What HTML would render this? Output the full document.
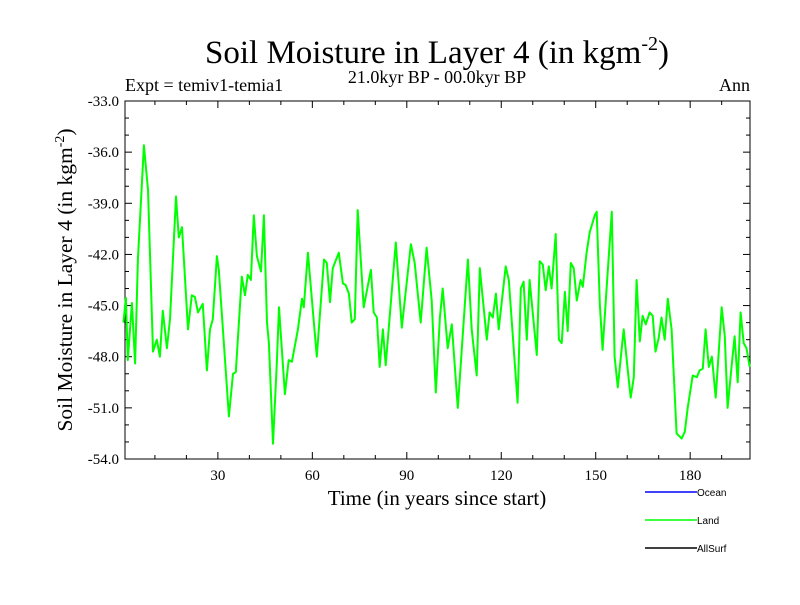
<!DOCTYPE html>
<html><head><meta charset="utf-8"><style>
body{margin:0;background:#fff;width:800px;height:600px;overflow:hidden}
svg text{font-family:"Liberation Serif",serif}
svg text.sans{font-family:"Liberation Sans",sans-serif}
</style></head><body>
<svg id="chart" width="800" height="600">
<text x="437" y="63" font-size="33" text-anchor="middle">Soil Moisture in Layer 4 (in kgm<tspan font-size="20" dy="-13">-2</tspan><tspan dy="13">)</tspan></text>
<text x="437" y="83" font-size="18" text-anchor="middle">21.0kyr BP - 00.0kyr BP</text>
<text x="125" y="91" font-size="18">Expt = temiv1-temia1</text>
<text x="750" y="91" font-size="18" text-anchor="end">Ann</text>
<text transform="translate(72,280) rotate(-90)" font-size="21.5" text-anchor="middle">Soil Moisture in Layer 4 (in kgm<tspan font-size="14" dy="-8">-2</tspan><tspan dy="8">)</tspan></text>
<text x="437" y="505" font-size="21" text-anchor="middle">Time (in years since start)</text>
<g id="axes"></g>
<g id="series"></g>
<g id="legend"></g>
</svg>
<script>
const years=[0,0.8,1.4,2.7,3.7,4.6,6.5,7.8,9.4,10.6,11.6,12.5,13.8,14.8,16.7,17.6,18.6,20.5,21.7,22.7,23.7,25.2,26.5,27.5,28.4,29.7,30.3,33.5,34.8,35.7,37.6,38.6,39.5,40.5,41.4,42.4,43.7,44.6,45.6,46.2,47.5,48.7,49.4,51.3,52.5,53.5,55.4,56.7,57.3,58.6,61.4,63.7,64.6,65.6,66.5,68.4,69.7,70.6,71.6,72.5,73.5,74.4,76.3,78.6,79.5,80.5,81.4,82.4,83.3,86.5,88.4,91.3,92.5,94.4,96.3,97.9,99.2,100.5,101.4,103.0,104.3,106.2,109.4,110.6,112.2,113.2,115.4,116.3,117.3,118.3,119.2,121.4,122.4,125.2,126.2,127.1,128.1,129.0,131.3,132.2,133.2,134.1,135.1,136.0,137.3,138.3,139.2,140.2,141.1,142.1,143.0,144.0,145.2,145.9,147.1,148.1,149.7,150.3,151.3,152.2,153.5,155.1,156.0,157.0,158.3,158.9,160.2,161.1,162.1,163.0,164.0,164.9,165.9,167.1,168.1,169.0,170.0,170.9,171.9,172.9,174.1,175.7,177.3,178.3,179.2,180.8,182.1,183.0,184.0,184.9,185.9,186.9,188.1,190.0,191.0,191.9,193.2,194.1,195.1,196.0,197.0,197.9,198.9];
const landValues=[-46.0,-44.55,-48.2,-44.85,-48.4,-42.3,-35.6,-38.2,-47.7,-47.0,-48.0,-45.3,-47.5,-45.8,-38.6,-41.0,-40.4,-46.4,-44.4,-44.5,-45.4,-44.9,-48.8,-46.4,-45.8,-42.1,-42.9,-51.5,-49.0,-48.9,-43.3,-44.4,-43.2,-43.5,-39.7,-42.1,-43.0,-39.7,-46.0,-47.2,-53.1,-48.4,-45.1,-50.2,-48.2,-48.3,-46.4,-44.6,-45.1,-41.9,-48.0,-42.3,-42.5,-44.8,-42.8,-41.9,-43.7,-43.8,-44.3,-46.0,-45.8,-39.4,-45.1,-42.9,-45.4,-45.7,-48.6,-46.4,-48.5,-41.3,-46.3,-41.4,-42.5,-46.0,-41.6,-44.7,-50.1,-45.7,-44.0,-47.5,-46.1,-51.0,-42.3,-46.4,-49.1,-42.8,-47.0,-45.4,-45.7,-44.3,-46.4,-42.7,-43.5,-50.7,-44.0,-43.6,-47.0,-43.5,-47.9,-42.4,-42.6,-44.1,-42.7,-44.0,-40.8,-47.0,-47.2,-44.2,-46.5,-42.5,-42.8,-44.7,-43.5,-43.9,-41.9,-40.7,-39.7,-39.5,-44.9,-47.6,-43.9,-39.5,-48.0,-49.8,-47.4,-46.4,-48.8,-50.4,-49.2,-43.5,-47.1,-45.6,-46.1,-45.4,-45.6,-47.7,-46.9,-45.7,-47.0,-44.6,-46.4,-52.5,-52.8,-52.4,-51.0,-49.1,-49.2,-48.8,-48.7,-46.4,-48.6,-48.0,-50.4,-45.1,-46.8,-51.0,-48.5,-46.8,-49.5,-45.4,-47.2,-47.5,-48.6];
const yTicks=[-33,-36,-39,-42,-45,-48,-51,-54];
const xTicks=[30,60,90,120,150,180];
const legendNames=["Ocean","Land","AllSurf"];
const legendColors=["#0000ff","#00ff00","#000000"];
const X0=125,X1=750,Y0=101,Y1=459,xmin=0.5,xmax=199,ymin=-54,ymax=-33;
const sx=v=>X0+(v-xmin)/(xmax-xmin)*(X1-X0);
const sy=v=>Y1-(v-ymin)/(ymax-ymin)*(Y1-Y0);
const NS="http://www.w3.org/2000/svg";
function mk(tag,attrs,parent){const e=document.createElementNS(NS,tag);for(const k in attrs)e.setAttribute(k,attrs[k]);parent.appendChild(e);return e;}
const axes=document.getElementById('axes');
const frame=mk('rect',{x:X0,y:Y0,width:X1-X0,height:Y1-Y0,fill:'none',stroke:'#000','stroke-width':1},axes);


for(let v=ymin;v<=ymax;v+=1){const y=sy(v);const major=yTicks.includes(v);const L=major?7:4;
 mk('line',{x1:X0,x2:X0+L,y1:y,y2:y,stroke:'#000'},axes);mk('line',{x1:X1,x2:X1-L,y1:y,y2:y,stroke:'#000'},axes);}
yTicks.forEach(v=>{const t=mk('text',{x:X0-6,y:sy(v)+5,'font-size':15,'text-anchor':'end'},axes);t.textContent=v.toFixed(1);
 
 });
for(let v=10;v<xmax;v+=10){const x=sx(v);const major=xTicks.includes(v);const L=major?7:4;
 mk('line',{x1:x,x2:x,y1:Y1,y2:Y1-L,stroke:'#000'},axes);mk('line',{x1:x,x2:x,y1:Y0,y2:Y0+L,stroke:'#000'},axes);}
xTicks.forEach(v=>{const t=mk('text',{x:sx(v),y:Y1+21,'font-size':15,'text-anchor':'middle'},axes);t.textContent=v;
 
 });
const pts=years.map((yr,i)=>sx(yr).toFixed(1)+','+sy(landValues[i]).toFixed(1)).join(' ');
const line=mk('polyline',{points:pts,fill:'none',stroke:'#00ff00','stroke-width':2,'stroke-linejoin':'round'},document.getElementById('series'));


const lg=document.getElementById('legend');
legendNames.forEach((n,i)=>{const y=492+i*28;
 const l=mk('line',{x1:645,x2:697,y1:y,y2:y,stroke:legendColors[i],'stroke-width':1.5},lg);
 
 
 const t=mk('text',{x:697,y:y+4,'font-size':10,'class':'sans'},lg);t.textContent=n;
 
 });
</script>
</body></html>
